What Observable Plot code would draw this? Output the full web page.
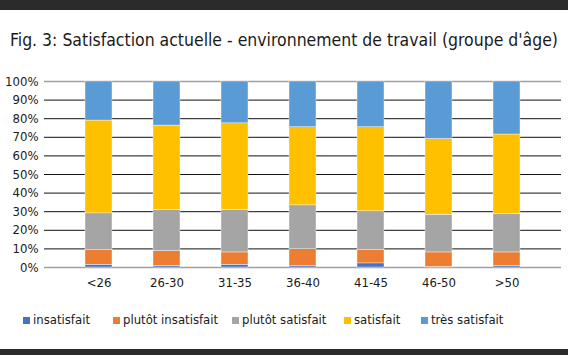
<!DOCTYPE html>
<html>
<head>
<meta charset="utf-8">
<script src="https://cdn.jsdelivr.net/npm/d3@7"></script>
<script src="https://cdn.jsdelivr.net/npm/@observablehq/plot@0.6"></script>
<style>
  html, body { margin: 0; padding: 0; background: #fff; }
  #wrap { position: relative; width: 568px; height: 355px; overflow: hidden; font-family: "DejaVu Sans Condensed", "DejaVu Sans", sans-serif; color: #1a1a1a; }
  #topbar { position: absolute; left: 0; top: 0; width: 568px; height: 10px; background: #2b2b2b; }
  #botbar { position: absolute; left: 0; top: 349px; width: 568px; height: 6px; background: #2b2b2b; }
  #title { position: absolute; left: 10px; top: 29px; font-size: 18px; line-height: 22px; white-space: nowrap; transform-origin: 0 50%; }
  #chart { position: absolute; left: 0; top: 60px; }
  #legend { position: absolute; left: 0; top: 312px; width: 568px; height: 16px; font-size: 13px; line-height: 16px; white-space: nowrap; }
  .item { position: absolute; top: 0; display: flex; align-items: center; }
  .sw { width: 7px; height: 7px; margin-right: 3px; }
</style>
</head>
<body>
<div id="wrap">
  <div id="topbar"></div>
  <div id="title">Fig. 3: Satisfaction actuelle - environnement de travail (groupe d'âge)</div>
  <div id="chart"></div>
  <div id="legend"></div>
  <div id="botbar"></div>
</div>
<script>
const groups = ["<26", "26-30", "31-35", "36-40", "41-45", "46-50", ">50"];
const categories = ["insatisfait", "plutôt insatisfait", "plutôt satisfait", "satisfait", "très satisfait"];
const colors = ["#4472C4", "#ED7D31", "#A5A5A5", "#FFC000", "#5B9BD5"];
const insatisfait       = [1.5, 0.9, 1.5, 0.7, 2.2, 0.3, 0.8];
const plutotInsatisfait = [7.9, 7.9, 6.6, 9.2, 7.3, 7.8, 7.3];
const plutotSatisfait   = [19.7, 22.1, 22.8, 23.5, 20.7, 20.3, 20.6];
const satisfait         = [49.9, 45.4, 46.6, 42.0, 45.2, 40.7, 42.8];
const tresSatisfait     = [21.0, 23.7, 22.5, 24.6, 24.6, 30.9, 28.5];
const yTicks = [0, 10, 20, 30, 40, 50, 60, 70, 80, 90, 100];

const series = [insatisfait, plutotInsatisfait, plutotSatisfait, satisfait, tresSatisfait];
const data = [];
groups.forEach((g, i) => {
  categories.forEach((c, j) => data.push({group: g, cat: c, value: series[j][i]}));
});

// fit title to the reference width (548px) with a horizontal squeeze
const title = document.getElementById("title");
const tw = title.getBoundingClientRect().width;
if (tw > 0) title.style.transform = `scaleX(${548 / tw})`;

const plot = Plot.plot({
  width: 568,
  height: 235,
  marginLeft: 44,
  marginRight: 7,
  marginTop: 21,
  marginBottom: 28,
  style: { fontFamily: '"DejaVu Sans Condensed", "DejaVu Sans", sans-serif', fontSize: "13px", color: "#1a1a1a", background: "transparent" },
  x: { domain: groups, padding: 0.6, label: null, tickSize: 0, tickPadding: 10 },
  y: { domain: [0, 100], ticks: yTicks, tickFormat: d => d + "%", label: null, tickSize: 0, tickPadding: 6 },
  color: { domain: categories, range: colors },
  marks: [
    Plot.ruleY(yTicks.filter(d => d > 0 && d < 100), { stroke: "#111", strokeWidth: 1 }),
    Plot.ruleY([0, 100], { stroke: "#a0a0a0", strokeWidth: 1.5 }),
    Plot.barY(data, { x: "group", y: "value", z: "cat", fill: "cat", order: categories, stroke: "#fff", strokeWidth: 0.4 }),
    Plot.axisY({ ticks: yTicks, tickFormat: d => d + "%", tickSize: 0, tickPadding: 6, fontSize: 13 }),
    Plot.axisX({ tickSize: 0, tickPadding: 10, fontSize: 13 })
  ]
});
document.getElementById("chart").appendChild(plot);

const legendX = [23, 113, 232, 344, 421];
const legend = document.getElementById("legend");
categories.forEach((c, i) => {
  const item = document.createElement("div");
  item.className = "item";
  item.style.left = legendX[i] + "px";
  const sw = document.createElement("div");
  sw.className = "sw";
  sw.style.background = colors[i];
  const t = document.createElement("span");
  t.textContent = c;
  item.appendChild(sw);
  item.appendChild(t);
  legend.appendChild(item);
});
</script>
</body>
</html>
